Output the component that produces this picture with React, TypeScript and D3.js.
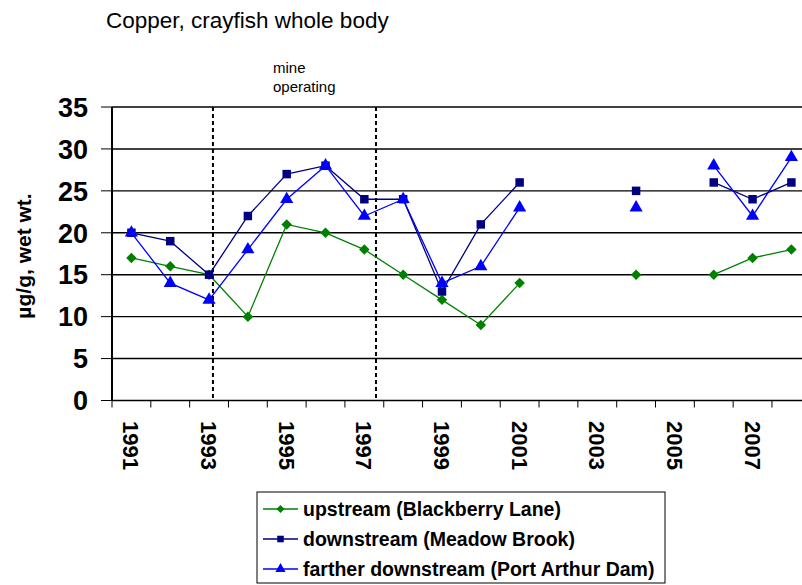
import React, { useEffect, useRef } from 'react'
import * as d3 from 'd3'

// values (µg/g wet wt.)
const years = [1991, 1992, 1993, 1994, 1995, 1996, 1997, 1998, 1999, 2000, 2001, 2002, 2003, 2004, 2005, 2006, 2007, 2008]
const upstream = [17, 16, 15, 10, 21, 20, 18, 15, 12, 9, 14, null, null, 15, null, 15, 17, 18]
const downstream = [20, 19, 15, 22, 27, 28, 24, 24, 13, 21, 26, null, null, 25, null, 26, 24, 26]
const farther = [20, 14, 12, 18, 24, 28, 22, 24, 14, 16, 23, null, null, 23, null, 28, 22, 29]
const yTicks = [0, 5, 10, 15, 20, 25, 30, 35]
const yearLabels = [1991, 1993, 1995, 1997, 1999, 2001, 2003, 2005, 2007]
const mineYears = [1993.1, 1997.3]

const seriesNames = [
  'upstream (Blackberry Lane)',
  'downstream (Meadow Brook)',
  'farther downstream (Port Arthur Dam)'
]

const width = 802
const height = 585
const font = 'Liberation Sans, Arial, sans-serif'

const plot = { left: 112, right: 810.8, top: 107, bottom: 400.5 }

const xScale = d3.scaleBand<number>()
  .domain(years)
  .range([plot.left, plot.right])
  .padding(0)

// continuous version of the same axis, for the dashed "mine operating" lines
const xYear = d3.scaleLinear()
  .domain([years[0] - 0.5, years[years.length - 1] + 0.5])
  .range([plot.left, plot.right])

const yScale = d3.scaleLinear()
  .domain([0, 35])
  .range([plot.bottom, plot.top])

// excel style diamond: a square turned 45 degrees
const squareDiamond = {
  draw(ctx: any, size: number) {
    const r = Math.sqrt(size / 2)
    ctx.moveTo(0, -r)
    ctx.lineTo(r, 0)
    ctx.lineTo(0, r)
    ctx.lineTo(-r, 0)
    ctx.closePath()
  }
}

const series = [
  { values: upstream, color: '#008000', symbol: squareDiamond, size: 55 },
  { values: downstream, color: '#000080', symbol: d3.symbolSquare, size: 72 },
  { values: farther, color: '#0000ff', symbol: d3.symbolTriangle, size: 75 }
]

export default function App() {
  const ref = useRef<SVGSVGElement>(null)

  useEffect(() => {
    const svg = d3.select(ref.current)
    svg.selectAll('*').remove()

    svg.append('rect').attr('width', width).attr('height', height).attr('fill', '#fff')

    svg.append('text')
      .attr('x', 106).attr('y', 28)
      .attr('font-family', font).attr('font-size', 22.5)
      .text('Copper, crayfish whole body')

    const mine = svg.append('text')
      .attr('x', 273).attr('y', 73)
      .attr('font-family', font).attr('font-size', 15)
    mine.append('tspan').attr('x', 273).text('mine')
    mine.append('tspan').attr('x', 273).attr('dy', 19).text('operating')

    // gridlines + y ticks
    svg.append('g').selectAll('line.grid')
      .data(yTicks.filter(d => d > 0)).enter()
      .append('line')
        .attr('x1', plot.left).attr('x2', width)
        .attr('y1', d => yScale(d)).attr('y2', d => yScale(d))
        .attr('stroke', '#000').attr('stroke-width', 1.4)

    svg.append('g').selectAll('line')
      .data(yTicks).enter()
      .append('line')
        .attr('x1', 101).attr('x2', plot.left)
        .attr('y1', d => yScale(d)).attr('y2', d => yScale(d))
        .attr('stroke', '#000').attr('stroke-width', 1)

    svg.append('g').selectAll('text')
      .data(yTicks).enter()
      .append('text')
        .attr('x', 88).attr('y', d => yScale(d))
        .attr('dy', '0.36em')
        .attr('text-anchor', 'end')
        .attr('font-family', font).attr('font-size', 27).attr('font-weight', 'bold')
        .text(d => d)

    svg.append('text')
      .attr('transform', 'translate(23,256) rotate(-90)')
      .attr('text-anchor', 'middle').attr('dy', '0.36em')
      .attr('font-family', font).attr('font-size', 21).attr('font-weight', 'bold')
      .text('µg/g, wet wt.')

    // x axis
    const bw = xScale.bandwidth()
    svg.append('g').selectAll('line')
      .data(years).enter()
      .append('line')
        .attr('x1', d => xScale(d)).attr('x2', d => xScale(d))
        .attr('y1', plot.bottom).attr('y2', plot.bottom + 7)
        .attr('stroke', '#000').attr('stroke-width', 1)

    svg.append('g').selectAll('text')
      .data(yearLabels).enter()
      .append('text')
        .attr('transform', d => `translate(${xScale(d)! + bw / 2},421) rotate(90)`)
        .attr('dy', '0.36em')
        .attr('font-family', font).attr('font-size', 22).attr('font-weight', 'bold')
        .text(d => d)

    // dashed mine lines
    svg.append('g').selectAll('line')
      .data(mineYears).enter()
      .append('line')
        .attr('x1', d => xYear(d)).attr('x2', d => xYear(d))
        .attr('y1', plot.top).attr('y2', plot.bottom)
        .attr('stroke', '#000').attr('stroke-width', 2)
        .attr('stroke-dasharray', '4,3')

    svg.append('line')
      .attr('x1', plot.left).attr('x2', width)
      .attr('y1', plot.bottom).attr('y2', plot.bottom)
      .attr('stroke', '#000').attr('stroke-width', 1.5)
    svg.append('line')
      .attr('x1', plot.left).attr('x2', plot.left)
      .attr('y1', plot.top).attr('y2', plot.bottom)
      .attr('stroke', '#000').attr('stroke-width', 2)

    // series
    series.forEach(s => {
      const pts = years.map((y, i) => ({ year: y, v: s.values[i] }))
      const line = d3.line<{ year: number; v: number | null }>()
        .defined(d => d.v != null)
        .x(d => xScale(d.year)! + bw / 2)
        .y(d => yScale(d.v as number))
      svg.append('path')
        .attr('d', line(pts))
        .attr('fill', 'none').attr('stroke', s.color).attr('stroke-width', 1.3)
      svg.append('g').selectAll('path')
        .data(pts.filter(d => d.v != null)).enter()
        .append('path')
          .attr('d', d3.symbol().type(s.symbol).size(s.size)())
          .attr('transform', d => `translate(${xScale(d.year)! + bw / 2},${yScale(d.v as number)})`)
          .attr('fill', s.color)
    })

    // legend
    const lg = svg.append('g')
    lg.append('rect')
      .attr('x', 257).attr('y', 492).attr('width', 408).attr('height', 91)
      .attr('fill', '#fff').attr('stroke', '#000').attr('stroke-width', 1)
    series.forEach((s, i) => {
      const y = 509 + i * 30
      lg.append('line')
        .attr('x1', 263).attr('x2', 298).attr('y1', y).attr('y2', y)
        .attr('stroke', s.color).attr('stroke-width', 1.3)
      lg.append('path')
        .attr('d', d3.symbol().type(s.symbol).size(s.size * 0.6)())
        .attr('transform', `translate(280.5,${y})`)
        .attr('fill', s.color)
      lg.append('text')
        .attr('x', 303).attr('y', y).attr('dy', '0.36em')
        .attr('font-family', font).attr('font-size', 19.5).attr('font-weight', 'bold')
        .text(seriesNames[i])
    })
  }, [])

  return (
    <svg ref={ref} width={width} height={height}
      style={{ position: 'absolute', left: 0, top: 0, display: 'block' }} />
  )
}
